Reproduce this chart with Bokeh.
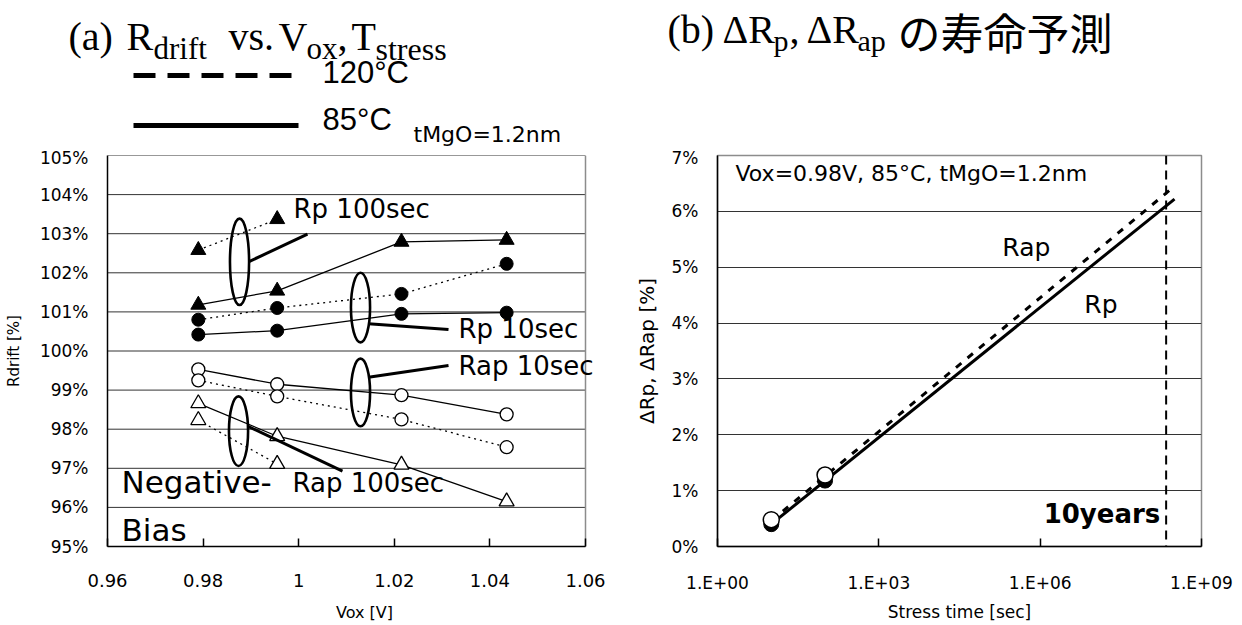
from bokeh.plotting import figure
from bokeh.layouts import column, row
from bokeh.models import Range1d, FixedTicker, Label, Span, PrintfTickFormatter
from bokeh.embed import file_html
from bokeh.resources import INLINE
from bokeh.core.properties import value

# ---------------- Panel (a) data : Rdrift vs Vox ----------------
vox = [0.979, 0.9955, 1.0215, 1.0435]
vox_short = [0.979, 0.9955]
rp100_85 = [101.18, 101.54, 102.79, 102.84]
rp100_120 = [102.58, 103.37]
rp10_85 = [100.42, 100.52, 100.95, 100.98]
rp10_120 = [100.80, 101.10, 101.46, 102.23]
rap10_85 = [99.53, 99.15, 98.87, 98.38]
rap10_120 = [99.25, 98.84, 98.25, 97.54]
rap100_85 = [98.66, 97.82, 97.09, 96.15]
rap100_120 = [98.23, 97.11]

xa_ticks = [0.96, 0.98, 1.0, 1.02, 1.04, 1.06]
xa_labels = ["0.96", "0.98", "1", "1.02", "1.04", "1.06"]
ya_ticks = [95, 96, 97, 98, 99, 100, 101, 102, 103, 104, 105]

# ---------------- Panel (b) data : lifetime prediction ----------------
t_meas = [10, 100]
drp_meas = [0.40, 1.18]
drap_meas = [0.48, 1.28]
t_fit = [10, 3.15e8]
drp_fit = [0.40, 6.22]
drap_fit = [0.46, 6.45]
ten_years = 2.2e8
xb_ticks = [1, 1e3, 1e6, 1e9]
xb_labels = ["1.E+00", "1.E+03", "1.E+06", "1.E+09"]
yb_ticks = [0, 1, 2, 3, 4, 5, 6, 7]

SANS = "DejaVu Sans"
SERIF = "Liberation Serif"
HDR_H = 147
PAGE_H = 625
PANEL_W = 621
GRID_C = "#333333"
FRAME_C = "#8c8c8c"

# ---------------- header (titles + temperature legend) ----------------
hdr = figure(width=1242, height=HDR_H, x_range=Range1d(0, 1242), y_range=Range1d(HDR_H, 0),
             x_axis_location=None, y_axis_location=None, toolbar_location=None,
             output_backend="svg", min_border=0)
hdr.grid.visible = False
hdr.outline_line_color = None


def htext(x, y, t, size, font=SERIF, style="normal", align="left"):
    hdr.text(x=[x], y=[y], text=[t], text_font=value(font), text_font_size=size,
             text_baseline="middle", text_align=align, text_color="black",
             text_font_style=style)


# (a) title
htext(68, 36, "(a)", "40px")
htext(126, 36, "R", "40px")
htext(153, 48, "drift", "31px")
htext(228, 36, "vs.", "40px")
htext(278, 36, "V", "40px")
htext(306, 48, "ox", "31px")
htext(337, 36, ",", "40px")
htext(351, 36, "T", "40px")
htext(375, 48, "stress", "32px")
# (b) title
htext(667, 29, "(b)", "40px")
htext(722, 29, "ΔR", "40px")
htext(773, 40, "p", "30px")
htext(789, 29, ",", "40px")
htext(806, 29, "ΔR", "40px")
htext(857, 40, "ap", "30px")
htext(897, 30, "の寿命予測", "43px", font="Noto Sans CJK JP")

# temperature legend
hdr.line([133, 296], [75, 75], line_width=5, line_dash="22 12", line_color="black")
hdr.line([133, 298], [125, 125], line_width=5, line_color="black")
htext(322, 72, "120°C", "31px", font="Liberation Sans")
htext(322, 119, "85°C", "31px", font="Liberation Sans")
htext(413, 134, "tMgO=1.2nm", "22px", font=SANS)


def style_axes(p):
    p.background_fill_color = "white"
    p.border_fill_color = "white"
    p.xgrid.visible = False
    for ax in (p.xaxis[0], p.yaxis[0]):
        ax.axis_line_color = "black"
        ax.axis_line_width = 1.5
        ax.minor_tick_line_color = None
        ax.major_label_text_color = "black"
        ax.major_label_text_font = SANS
        ax.axis_label_text_font = SANS
        ax.axis_label_text_font_style = "normal"
        ax.axis_label_text_color = "black"
    p.xaxis[0].major_tick_in = 8
    p.xaxis[0].major_tick_out = 0
    p.xaxis[0].major_tick_line_color = "black"
    p.xaxis[0].major_tick_line_width = 1.5
    p.yaxis[0].major_tick_in = 0
    p.yaxis[0].major_tick_out = 0


# ---------------- panel (a) ----------------
# frame is widened to the panel's right edge so annotation texts may pass the 1.06 border
pa = figure(width=PANEL_W, height=PAGE_H - HDR_H, x_range=Range1d(0.96, 1.06 + 36 / 4780),
            y_range=Range1d(95, 105), toolbar_location=None, output_backend="svg",
            min_border_left=107, min_border_right=0, min_border_top=153 - HDR_H,
            min_border_bottom=79)
style_axes(pa)
pa.outline_line_color = None
pa.ygrid.visible = False
pa.xaxis[0].bounds = (xa_ticks[0], xa_ticks[-1])
pa.xaxis[0].ticker = FixedTicker(ticks=xa_ticks)
pa.xaxis[0].major_label_overrides = dict(zip(xa_ticks, xa_labels))
pa.yaxis[0].ticker = FixedTicker(ticks=ya_ticks)
pa.yaxis[0].formatter = PrintfTickFormatter(format="%d%%")
pa.xaxis[0].major_label_text_font_size = "18px"
pa.yaxis[0].major_label_text_font_size = "17px"
pa.xaxis[0].major_label_standoff = 27
pa.yaxis[0].major_label_standoff = 19
pa.xaxis[0].axis_label = "Vox [V]"
pa.yaxis[0].axis_label = "Rdrift [%]"
pa.xaxis[0].axis_label_text_font_size = "16px"
pa.yaxis[0].axis_label_text_font_size = "15px"
pa.xaxis[0].axis_label_standoff = 13
pa.yaxis[0].axis_label_standoff = 14
# horizontal grid lines and right frame border, limited to the 0.96-1.06 data area
pa.segment(x0=[xa_ticks[0]] * len(ya_ticks), x1=[xa_ticks[-1]] * len(ya_ticks),
           y0=ya_ticks, y1=ya_ticks, line_color=GRID_C, line_width=1)
pa.segment(x0=[xa_ticks[-1]], x1=[xa_ticks[-1]], y0=[ya_ticks[0]], y1=[ya_ticks[-1]],
           line_color=FRAME_C, line_width=1.5)

LW = 1.3
DOT = "2 4"
pa.line(vox_short, rp100_120, line_width=LW, line_dash=DOT, color="black")
pa.line(vox, rp100_85, line_width=LW, color="black")
pa.line(vox, rp10_120, line_width=LW, line_dash=DOT, color="black")
pa.line(vox, rp10_85, line_width=LW, color="black")
pa.line(vox, rap10_85, line_width=LW, color="black")
pa.line(vox, rap10_120, line_width=LW, line_dash=DOT, color="black")
pa.line(vox, rap100_85, line_width=LW, color="black")
pa.line(vox_short, rap100_120, line_width=LW, line_dash=DOT, color="black")
pa.scatter(vox_short, rp100_120, marker="triangle", size=15, color="black")
pa.scatter(vox, rp100_85, marker="triangle", size=15, color="black")
pa.scatter(vox, rp10_120, marker="circle", size=13, color="black")
pa.scatter(vox, rp10_85, marker="circle", size=13, color="black")
pa.scatter(vox, rap10_85, marker="circle", size=13, fill_color="white", line_color="black", line_width=1.3)
pa.scatter(vox, rap10_120, marker="circle", size=13, fill_color="white", line_color="black", line_width=1.3)
pa.scatter(vox, rap100_85, marker="triangle", size=15, fill_color="white", line_color="black", line_width=1.3)
pa.scatter(vox_short, rap100_120, marker="triangle", size=15, fill_color="white", line_color="black", line_width=1.3)

# annotation ellipses and pointers
ell_x = [0.98762, 1.01293, 1.01293, 0.98741]
ell_y = [102.28, 101.11, 98.94, 97.95]
ell_h = [2.21, 1.78, 1.73, 1.78]
pa.ellipse(x=ell_x, y=ell_y, width=0.0040, height=ell_h, fill_color=None,
           line_color="black", line_width=2.6)
ptr_x0 = [0.98950, 1.01460, 1.01460, 0.98929]
ptr_y0 = [102.28, 100.70, 99.33, 98.08]
ptr_x1 = [1.00184, 1.03134, 1.03134, 1.00916]
ptr_y1 = [102.99, 100.55, 99.63, 96.93]
pa.segment(x0=ptr_x0, y0=ptr_y0, x1=ptr_x1, y1=ptr_y1, line_color="black", line_width=3)

# annotation texts (canvas pixels of this panel)
ann_a = [("Rp 100sec", 293, 208, "26px"), ("Rp 10sec", 458, 328, "26px"),
         ("Rap 10sec", 458, 365, "26px"), ("Rap 100sec", 292, 482, "26px"),
         ("Negative-", 121, 481, "31px"), ("Bias", 121, 529, "31px")]
for t, x, y, fs in ann_a:
    pa.add_layout(Label(x=x, y=y - HDR_H, x_units="canvas", y_units="canvas", text=t,
                        text_font=SANS, text_font_size=fs, text_baseline="middle",
                        text_color="black"))

# ---------------- panel (b) ----------------
pb = figure(width=PANEL_W, height=PAGE_H - HDR_H, x_axis_type="log", x_range=Range1d(1, 1e9),
            y_range=Range1d(0, 7), toolbar_location=None, output_backend="svg",
            min_border_left=96, min_border_right=41, min_border_top=155 - HDR_H,
            min_border_bottom=75)
style_axes(pb)
pb.outline_line_color = FRAME_C
pb.outline_line_width = 1.5
pb.ygrid.grid_line_color = GRID_C
pb.ygrid.grid_line_width = 1
pb.xaxis[0].ticker = FixedTicker(ticks=xb_ticks)
pb.xaxis[0].major_label_overrides = dict(zip(xb_ticks, xb_labels))
pb.yaxis[0].ticker = FixedTicker(ticks=yb_ticks)
pb.yaxis[0].formatter = PrintfTickFormatter(format="%d%%")
pb.xaxis[0].major_label_text_font_size = "17px"
pb.yaxis[0].major_label_text_font_size = "17px"
pb.xaxis[0].major_label_standoff = 26
pb.yaxis[0].major_label_standoff = 19
pb.xaxis[0].axis_label = "Stress time [sec]"
pb.yaxis[0].axis_label = "ΔRp, ΔRap [%]"
pb.xaxis[0].axis_label_text_font_size = "17px"
pb.yaxis[0].axis_label_text_font_size = "20px"
pb.xaxis[0].axis_label_standoff = 6
pb.yaxis[0].axis_label_standoff = 10

pb.add_layout(Span(location=ten_years, dimension="height", line_color="black",
                   line_width=2, line_dash="9 6"))
pb.line(t_fit, drp_fit, line_width=3, color="black")
pb.line(t_fit, drap_fit, line_width=3, line_dash="7 8", color="black")
pb.scatter(t_meas, drp_meas, marker="circle", size=15, color="black")
pb.scatter(t_meas, drap_meas, marker="circle", size=16, fill_color="white",
           line_color="black", line_width=1.5)

ann_b = [("Vox=0.98V, 85°C, tMgO=1.2nm", 2.16, 6.68, "22px", "normal", "left"),
         ("Rap", 1.98e5, 5.35, "25px", "normal", "left"),
         ("Rp", 6.63e6, 4.34, "25px", "normal", "left"),
         ("10years", 1.71e8, 0.585, "26px", "bold", "right")]
for t, x, y, fs, st, al in ann_b:
    pb.add_layout(Label(x=x, y=y, text=t, text_font=SANS, text_font_size=fs,
                        text_font_style=st, text_align=al, text_baseline="middle",
                        text_color="black"))

layout = column(hdr, row(pa, pb))
open("out.html", "w").write(file_html(layout, INLINE))
